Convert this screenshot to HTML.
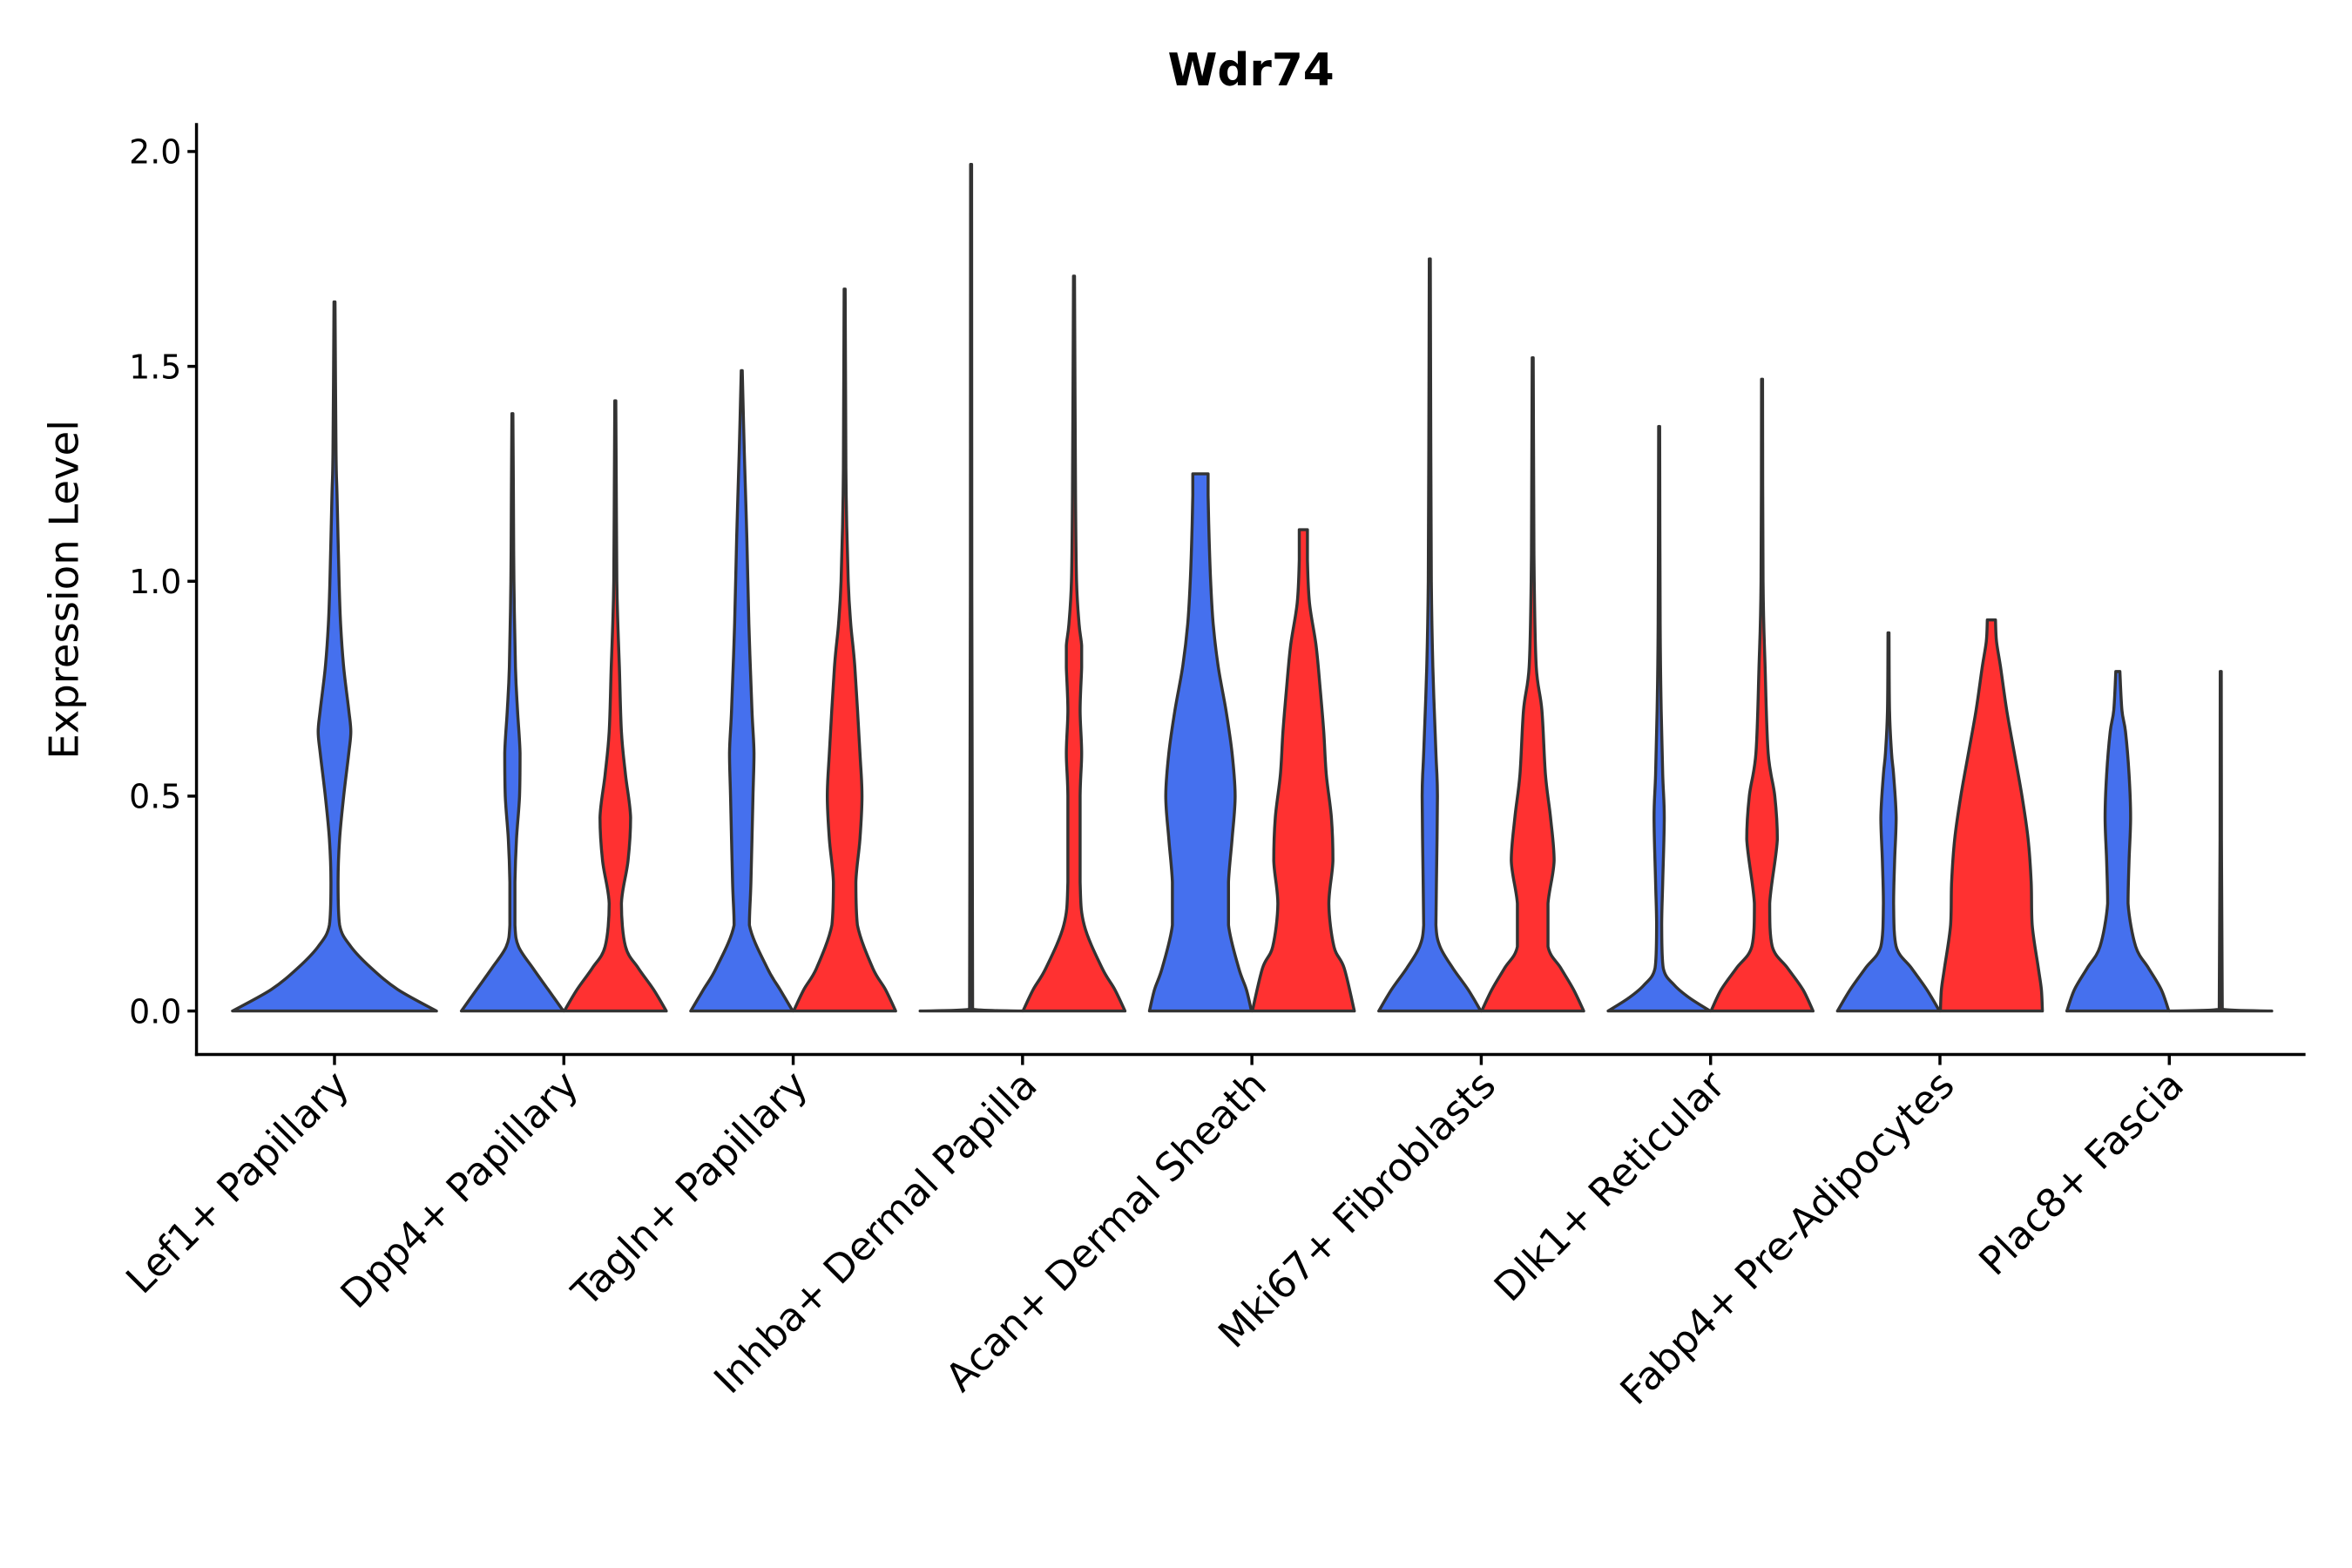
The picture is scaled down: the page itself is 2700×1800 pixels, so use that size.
<!DOCTYPE html>
<html><head><meta charset="utf-8"><style>
html,body{margin:0;padding:0;background:#fff;}
svg{display:block;font-family:"DejaVu Sans","Liberation Sans",sans-serif;}
</style></head><body>
<svg id="chart" width="2700" height="1800" viewBox="0 0 1568 1045.33" xmlns="http://www.w3.org/2000/svg">
<rect width="1568" height="1045.33" fill="#fff"/>
<text x="834" y="57" font-size="30" font-weight="bold" text-anchor="middle">Wdr74</text>
<text transform="translate(52,393) rotate(-90)" font-size="27" text-anchor="middle">Expression Level</text>
<g id="axes"></g>
<g id="marks"></g>
</svg>
<script>
const categories = ["Lef1+ Papillary","Dpp4+ Papillary","Tagln+ Papillary","Inhba+ Dermal Papilla","Acan+ Dermal Sheath","Mki67+ Fibroblasts","Dlk1+ Reticular","Fabp4+ Pre-Adipocytes","Plac8+ Fascia"];
const yTicks = [0, 0.5, 1.0, 1.5, 2.0];
const yTickLabels = ["0.0","0.5","1.0","1.5","2.0"];
const violinCategory = [0,1,1,2,2,3,3,4,4,5,5,6,6,7,7,8,8];
const violinGroup    = [0,0,1,0,1,0,1,0,1,0,1,0,1,0,1,0,1];
const violinSolo     = [1,0,0,0,0,0,0,0,0,0,0,0,0,0,0,0,0];
const violinProfiles = [
 [[0,1],[0.05,0.62],[0.1,0.36],[0.15,0.16],[0.2,0.05],[0.3,0.035],[0.4,0.05],[0.5,0.09],[0.6,0.14],[0.65,0.16],[0.7,0.14],[0.8,0.09],[0.9,0.06],[1.0,0.045],[1.2,0.025],[1.3,0.015],[1.65,0.005]],
 [[0,1],[0.05,0.7],[0.1,0.4],[0.15,0.12],[0.2,0.05],[0.3,0.05],[0.4,0.08],[0.5,0.14],[0.6,0.15],[0.7,0.1],[0.8,0.06],[1.0,0.03],[1.2,0.02],[1.39,0.01]],
 [[0,1],[0.05,0.75],[0.1,0.45],[0.15,0.2],[0.25,0.12],[0.35,0.25],[0.45,0.3],[0.55,0.2],[0.65,0.12],[0.8,0.08],[0.9,0.05],[1.0,0.03],[1.2,0.02],[1.42,0.01]],
 [[0,1],[0.05,0.75],[0.1,0.5],[0.2,0.15],[0.3,0.18],[0.5,0.22],[0.6,0.24],[0.7,0.2],[0.9,0.14],[1.1,0.1],[1.3,0.05],[1.49,0.01]],
 [[0,1],[0.05,0.8],[0.1,0.55],[0.2,0.25],[0.3,0.22],[0.4,0.3],[0.5,0.34],[0.6,0.3],[0.8,0.2],[0.9,0.12],[1.0,0.07],[1.2,0.03],[1.4,0.02],[1.68,0.01]],
 [[0,1],[0.004,0.03],[1.97,0.01]],
 [[0,1],[0.05,0.8],[0.1,0.55],[0.2,0.2],[0.3,0.12],[0.5,0.12],[0.6,0.15],[0.7,0.12],[0.8,0.15],[0.85,0.15],[0.9,0.1],[1.0,0.05],[1.2,0.03],[1.71,0.01]],
 [[0,1],[0.05,0.9],[0.1,0.75],[0.2,0.55],[0.3,0.55],[0.4,0.62],[0.5,0.68],[0.6,0.62],[0.7,0.5],[0.8,0.35],[0.9,0.25],[1.0,0.2],[1.1,0.17],[1.2,0.15],[1.25,0.15]],
 [[0,1],[0.1,0.8],[0.15,0.6],[0.25,0.5],[0.35,0.58],[0.45,0.55],[0.55,0.45],[0.65,0.4],[0.75,0.33],[0.85,0.25],[0.95,0.12],[1.05,0.08],[1.12,0.08]],
 [[0,1],[0.05,0.75],[0.1,0.45],[0.15,0.2],[0.2,0.12],[0.3,0.13],[0.5,0.15],[0.6,0.12],[0.8,0.06],[1.0,0.03],[1.3,0.02],[1.75,0.01]],
 [[0,1],[0.05,0.8],[0.1,0.55],[0.15,0.3],[0.25,0.3],[0.35,0.42],[0.45,0.35],[0.55,0.25],[0.7,0.18],[0.8,0.07],[1.0,0.03],[1.2,0.02],[1.52,0.01]],
 [[0,1],[0.03,0.6],[0.06,0.3],[0.1,0.08],[0.2,0.05],[0.3,0.07],[0.45,0.1],[0.55,0.07],[0.7,0.04],[0.9,0.02],[1.36,0.01]],
 [[0,1],[0.05,0.8],[0.1,0.5],[0.15,0.2],[0.25,0.15],[0.4,0.3],[0.5,0.25],[0.6,0.12],[0.8,0.06],[1.0,0.02],[1.47,0.01]],
 [[0,1],[0.05,0.75],[0.1,0.45],[0.15,0.15],[0.25,0.1],[0.35,0.12],[0.45,0.15],[0.55,0.1],[0.6,0.06],[0.7,0.02],[0.88,0.01]],
 [[0,1],[0.05,0.98],[0.1,0.92],[0.2,0.8],[0.3,0.78],[0.4,0.72],[0.5,0.6],[0.6,0.45],[0.7,0.3],[0.8,0.18],[0.86,0.1],[0.91,0.08]],
 [[0,1],[0.05,0.85],[0.1,0.6],[0.15,0.35],[0.25,0.2],[0.35,0.22],[0.45,0.25],[0.55,0.22],[0.65,0.15],[0.7,0.08],[0.79,0.04]],
 [[0,1],[0.004,0.03],[0.79,0.01]]
];
const groupColors = ["#4570ee","#ff3131"];

const NS="http://www.w3.org/2000/svg";
const plot={left:131,right:1537,top:82,bottom:703};
const y0=674, perUnit=286.5;
function yScale(v){return y0 - v*perUnit;}
function xScale(i){return 223 + i*152.9;}
const dodge=34.3, halfMax=34;
function mk(tag,attrs,parent){const e=document.createElementNS(NS,tag);for(const k in attrs)e.setAttribute(k,attrs[k]);parent.appendChild(e);return e;}
const axes=document.getElementById('axes'), marks=document.getElementById('marks');

let a=mk('line',{x1:plot.left,y1:plot.top,x2:plot.left,y2:plot.bottom+1,stroke:'#000','stroke-width':2},axes);


a=mk('line',{x1:plot.left-1,y1:plot.bottom,x2:plot.right,y2:plot.bottom,stroke:'#000','stroke-width':2},axes);



yTicks.forEach((v,i)=>{
  const y=yScale(v);
  const t=mk('line',{x1:plot.left-6,y1:y,x2:plot.left,y2:y,stroke:'#000','stroke-width':2},axes);
  
  
  const l=mk('text',{x:plot.left-10,y:y+8,'font-size':22,'text-anchor':'end',fill:'#000'},axes);
  l.textContent=yTickLabels[i];
  
  
});
categories.forEach((c,i)=>{
  const x=xScale(i);
  const t=mk('line',{x1:x,y1:plot.bottom,x2:x,y2:plot.bottom+7,stroke:'#000','stroke-width':2},axes);
  
  
  const l=mk('text',{transform:`translate(${x+11},${plot.bottom+22}) rotate(-45)`,'font-size':26,'text-anchor':'end',fill:'#000'},axes);
  l.textContent=c;
  
  
});

function clamp(v,a,b){const lo=Math.min(a,b),hi=Math.max(a,b);return Math.max(lo,Math.min(hi,v));}
function smoothPath(pts){
  let d=`M${pts[0][0]},${pts[0][1]}`;
  for(let i=0;i<pts.length-1;i++){
    const p0=pts[Math.max(0,i-1)],p1=pts[i],p2=pts[i+1],p3=pts[Math.min(pts.length-1,i+2)];
    const c1=[clamp(p1[0]+(p2[0]-p0[0])/6,p1[0],p2[0]),clamp(p1[1]+(p2[1]-p0[1])/6,p1[1],p2[1])];
    const c2=[clamp(p2[0]-(p3[0]-p1[0])/6,p1[0],p2[0]),clamp(p2[1]-(p3[1]-p1[1])/6,p1[1],p2[1])];
    d+=` C${c1[0]},${c1[1]} ${c2[0]},${c2[1]} ${p2[0]},${p2[1]}`;
  }
  return d;
}
violinProfiles.forEach((prof,k)=>{
  const solo=violinSolo[k];
  const cx=xScale(violinCategory[k]) + (solo?0:(violinGroup[k]?dodge:-dodge));
  const hw=solo?halfMax*2:halfMax;
  const right=prof.map(p=>[cx+p[1]*hw, yScale(p[0])]);
  const left=prof.slice().reverse().map(p=>[cx-p[1]*hw, yScale(p[0])]);
  let d=smoothPath(right);
  const top=prof[prof.length-1];
  d+=` L${cx-top[1]*hw},${yScale(top[0])}`;
  d+=smoothPath(left).replace(/^M/,' L')+' Z';
  const p=mk('path',{d:d,fill:groupColors[violinGroup[k]],stroke:'#333','stroke-width':2,'stroke-linejoin':'round'},marks);
  
  
});
</script>
</body></html>
